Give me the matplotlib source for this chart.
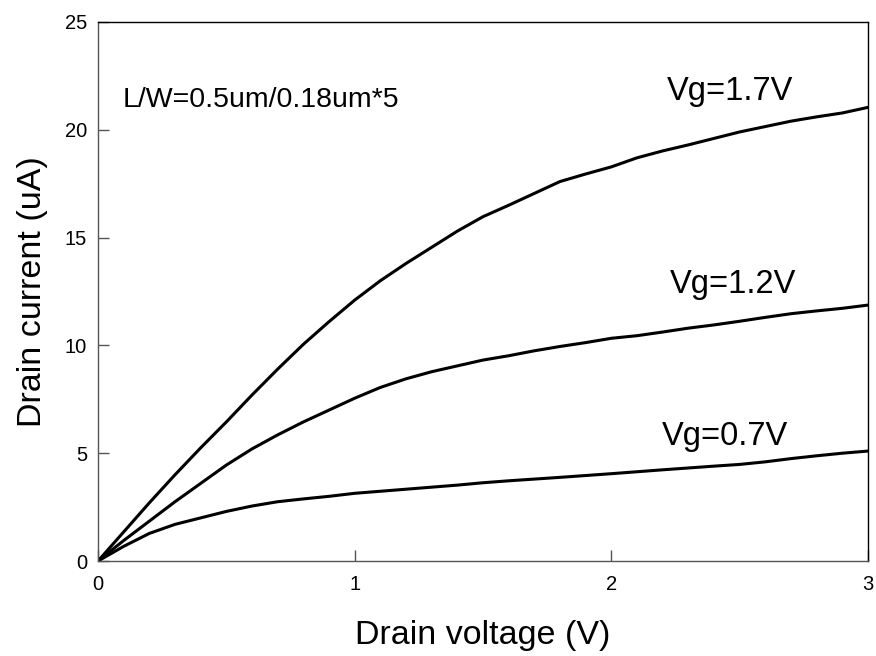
import numpy as np
import matplotlib.pyplot as plt

plt.rcParams['font.family'] = ['Liberation Sans', 'DejaVu Sans']

# Output characteristics, drain current (uA) vs drain voltage (V)
vd_17 = [0.0, 0.1, 0.2, 0.3, 0.4, 0.5, 0.6, 0.7, 0.8, 0.9, 1.0, 1.1, 1.2, 1.3,
         1.4, 1.5, 1.6, 1.7, 1.8, 1.9, 2.0, 2.1, 2.2, 2.3, 2.4, 2.5, 2.6, 2.7,
         2.8, 2.9, 3.0]
id_17 = [0.0, 1.35, 2.7, 4.0, 5.25, 6.45, 7.7, 8.9, 10.05, 11.1, 12.1, 13.0,
         13.8, 14.55, 15.3, 15.97, 16.5, 17.05, 17.6, 17.95, 18.28, 18.7,
         19.02, 19.3, 19.6, 19.9, 20.15, 20.4, 20.6, 20.78, 21.04]

vd_12 = [0.0, 0.1, 0.2, 0.3, 0.4, 0.5, 0.6, 0.7, 0.8, 0.9, 1.0, 1.1, 1.2, 1.3,
         1.4, 1.5, 1.6, 1.7, 1.8, 1.9, 2.0, 2.1, 2.2, 2.3, 2.4, 2.5, 2.6, 2.7,
         2.8, 2.9, 3.0]
id_12 = [0.0, 0.95, 1.85, 2.75, 3.6, 4.45, 5.2, 5.85, 6.45, 7.0, 7.55, 8.05,
         8.45, 8.78, 9.05, 9.32, 9.52, 9.75, 9.95, 10.13, 10.33, 10.45, 10.62,
         10.8, 10.95, 11.12, 11.3, 11.47, 11.6, 11.72, 11.87]

vd_07 = [0.0, 0.1, 0.2, 0.3, 0.4, 0.5, 0.6, 0.7, 0.8, 0.9, 1.0, 1.2, 1.4, 1.5,
         1.6, 1.8, 2.0, 2.2, 2.4, 2.5, 2.6, 2.7, 2.8, 2.9, 3.0]
id_07 = [0.0, 0.68, 1.28, 1.7, 2.0, 2.3, 2.55, 2.75, 2.88, 3.0, 3.14, 3.33,
         3.52, 3.63, 3.72, 3.88, 4.05, 4.23, 4.4, 4.48, 4.6, 4.75, 4.88, 5.0,
         5.1]

curve_labels = ['Vg=1.7V', 'Vg=1.2V', 'Vg=0.7V']
label_pos = [(2.215, 21.38), (2.228, 12.42), (2.195, 5.38)]

fig = plt.figure(figsize=(8.76, 6.56), dpi=100)
ax = fig.add_axes([0.1119, 0.1448, 0.879, 0.8217])

for vd, idv in [(vd_17, id_17), (vd_12, id_12), (vd_07, id_07)]:
    ax.plot(vd, idv, color='black', lw=2.2)

for txt, (x, y) in zip(curve_labels, label_pos):
    ax.text(x, y, txt, fontsize=23.5, va='baseline', ha='left')
ax.text(0.097, 21.04, 'L/W=0.5um/0.18um*5', fontsize=20.5, va='baseline', ha='left')

ax.set_xlim(0, 3)
ax.set_ylim(0, 25)
ax.set_xticks([0, 1, 2, 3])
ax.set_yticks([0, 5, 10, 15, 20, 25])
ax.tick_params(direction='in', length=8, width=1, color='#555555',
               labelsize=14.5, pad=8)
ax.tick_params(axis='x', pad=10)
for side in ('left', 'bottom'):
    ax.spines[side].set_color('#555555')
for side in ('top', 'right'):
    ax.spines[side].set_color('black')
for sp in ax.spines.values():
    sp.set_linewidth(1)

ax.set_xlabel('Drain voltage (V)', fontsize=24.5, labelpad=19)
ax.set_ylabel('Drain current (uA)', fontsize=24.5, labelpad=12)

fig.savefig('out.png', dpi=100)
